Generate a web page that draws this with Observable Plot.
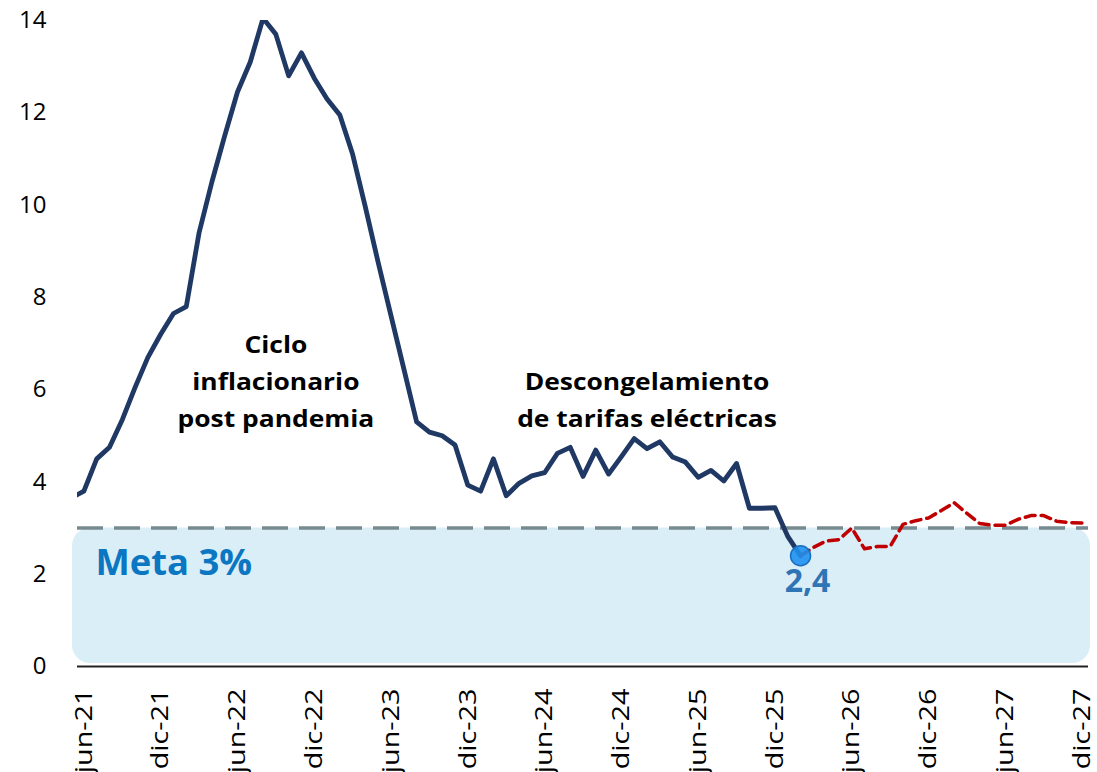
<!DOCTYPE html>
<html><head><meta charset="utf-8">
<script src="https://cdn.jsdelivr.net/npm/d3@7"></script>
<script src="https://cdn.jsdelivr.net/npm/@observablehq/plot@0.6"></script>
<style>html,body{margin:0;padding:0;background:#fff}#chart svg{display:block}</style>
</head><body><div id="chart"></div>
<script>
// Monthly categories (may-21 … dic-27)
const months = [
  "may-21","jun-21","jul-21","ago-21","sep-21","oct-21","nov-21","dic-21",
  "ene-22","feb-22","mar-22","abr-22","may-22","jun-22","jul-22","ago-22","sep-22","oct-22","nov-22","dic-22",
  "ene-23","feb-23","mar-23","abr-23","may-23","jun-23","jul-23","ago-23","sep-23","oct-23","nov-23","dic-23",
  "ene-24","feb-24","mar-24","abr-24","may-24","jun-24","jul-24","ago-24","sep-24","oct-24","nov-24","dic-24",
  "ene-25","feb-25","mar-25","abr-25","may-25","jun-25","jul-25","ago-25","sep-25","oct-25","nov-25","dic-25",
  "ene-26","feb-26","mar-26","abr-26","may-26","jun-26","jul-26","ago-26","sep-26","oct-26","nov-26","dic-26",
  "ene-27","feb-27","mar-27","abr-27","may-27","jun-27","jul-27","ago-27","sep-27","oct-27","nov-27","dic-27"
];
// Observed annual inflation (may-21 … feb-26)
const actual = [
  3.65, 3.8, 4.5, 4.75, 5.35, 6.05, 6.7, 7.2,
  7.65, 7.8, 9.4, 10.5, 11.5, 12.45, 13.1, 14.05, 13.7, 12.8, 13.3, 12.75,
  12.3, 11.95, 11.1, 9.95, 8.75, 7.6, 6.45, 5.3, 5.08, 5.0, 4.8, 3.93,
  3.8, 4.5, 3.7, 3.97, 4.13, 4.2, 4.62, 4.75, 4.12, 4.69, 4.17, 4.55,
  4.94, 4.72, 4.87, 4.54, 4.43, 4.1, 4.25, 4.02, 4.4, 3.43, 3.43, 3.44,
  2.82, 2.4
];
// Projection (feb-26 … dic-27)
const forecast = [
  2.4, 2.58, 2.72, 2.75, 3.0, 2.55, 2.6, 2.6, 3.08, 3.16, 3.22,
  3.38, 3.55, 3.32, 3.1, 3.06, 3.06, 3.19, 3.27, 3.27, 3.15, 3.12, 3.11
];
const tickLabels = ["jun-21","dic-21","jun-22","dic-22","jun-23","dic-23","jun-24","dic-24","jun-25","dic-25","jun-26","dic-26","jun-27","dic-27"];
const yTicks = [0, 2, 4, 6, 8, 10, 12, 14];
const target = 3;
const targetLabel = "Meta 3%";
const lastLabel = "2,4";
const notes = [
  {month: "sep-22", value: 6.25, text: "Ciclo\ninflacionario\npost pandemia"},
  {month: "feb-25", value: 5.85, text: "Descongelamiento\nde tarifas eléctricas"}
];

const actualData = actual.map((v, k) => ({i: k, v}));
const fStart = actual.length - 1;
const forecastData = forecast.map((v, k) => ({i: fStart + k, v}));
const lastPoint = actualData[actualData.length - 1];
const tickIdx = tickLabels.map(l => months.indexOf(l));
const noteData = notes.map(n => ({i: months.indexOf(n.month), v: n.value, text: n.text}));

const font = "'Open Sans', sans-serif";

const chart = Plot.plot({
  width: 1097,
  height: 772,
  marginTop: 20,
  marginBottom: 106,
  marginLeft: 77,
  marginRight: 9,
  style: {fontFamily: font, background: "#fff", color: "#000"},
  x: {type: "linear", domain: [0.5, months.length - 0.5]},
  y: {domain: [0, 14]},
  marks: [
    Plot.rect([{lo: 0, hi: target}], {
      x1: () => 0.5, x2: () => months.length - 0.5, y1: "lo", y2: "hi",
      fill: "#DAEEF7", rx: 18, insetLeft: -5, insetRight: -2, insetBottom: 3
    }),
    Plot.ruleY([target], {stroke: "#778A90", strokeWidth: 3.5, strokeDasharray: "26,11"}),
    Plot.ruleY([0], {stroke: "#222", strokeWidth: 2}),
    Plot.axisY({ticks: yTicks, tickSize: 0, tickPadding: 31, fontSize: 24, fontFamily: font, label: null, fill: "#000"}),
    Plot.axisX({ticks: tickIdx, tickFormat: i => months[i], tickRotate: -90, tickSize: 0, tickPadding: 22, fontSize: 24, fontFamily: font, label: null, fill: "#000"}),
    Plot.line(actualData, {x: "i", y: "v", stroke: "#1F3864", strokeWidth: 4.8, clip: true}),
    Plot.line(forecastData, {x: "i", y: "v", stroke: "#C00000", strokeWidth: 3.5, strokeDasharray: "10,6"}),
    Plot.dot([lastPoint], {x: "i", y: "v", r: 10, fill: "#1E90F0", fillOpacity: 0.9, stroke: "#1A6FC0", strokeWidth: 1.5}),
    Plot.text([lastPoint], {x: "i", y: "v", text: () => lastLabel, dy: 26, dx: 7, fontSize: 32, fontWeight: "bold", fill: "#2E75B6", fontFamily: font}),
    Plot.text([{v: 2.22}], {frameAnchor: "left", y: "v", text: () => targetLabel, dx: 18, textAnchor: "start", fontSize: 35, fontWeight: "bold", fill: "#0B76C1", fontFamily: font, ariaDescription: "meta"}),
    Plot.text(noteData, {x: "i", y: "v", text: "text", fontSize: 24, fontWeight: "bold", fill: "#000", lineHeight: 1.53, fontFamily: font, ariaDescription: "notes"})
  ]
});
document.getElementById("chart").appendChild(chart);

// Match the reference's glyph proportions (stretched text)
function stretch(selector, sx, sy) {
  chart.querySelectorAll(selector).forEach(t => {
    let tr = t.getAttribute("transform");
    if (!tr) {
      const x = +(t.getAttribute("x") || 0), y = +(t.getAttribute("y") || 0);
      t.removeAttribute("x"); t.removeAttribute("y");
      tr = `translate(${x},${y})`;
    }
    t.setAttribute("transform", `${tr} scale(${sx},${sy})`);
  });
}
stretch('g[aria-label="x-axis tick label"] text', 1.2, 1);
stretch('g[aria-description="notes"] text', 1.1, 1);
stretch('g[aria-description="meta"] text', 1.04, 1);
</script>
</body></html>
